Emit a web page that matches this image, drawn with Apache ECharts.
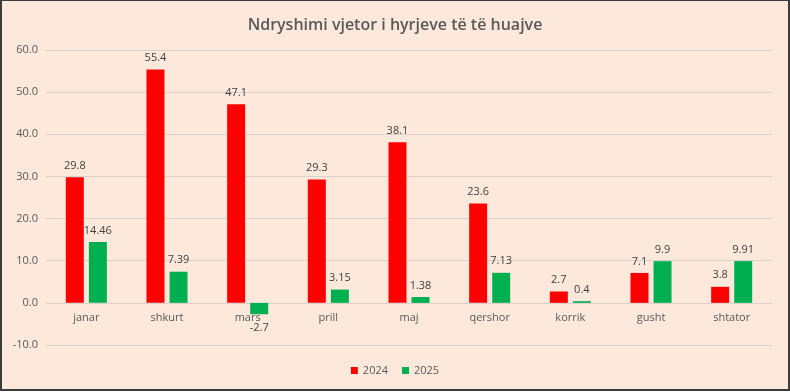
<!DOCTYPE html>
<html>
<head>
<meta charset="utf-8">
<script src="https://cdn.jsdelivr.net/npm/echarts@6/dist/echarts.min.js"></script>
<style>
html,body{margin:0;padding:0;background:#ffffff;}
#wrap{position:absolute;left:0;top:0;width:790px;height:391px;box-sizing:border-box;border-style:solid;border-color:#3b3b3b;border-width:1px 2px 2px 2px;background:#fde9dc;}
#chart{width:100%;height:100%;}
</style>
</head>
<body>
<div id="wrap"><div id="chart"></div></div>
<script>
const categories = ['janar','shkurt','mars','prill','maj','qershor','korrik','gusht','shtator'];
const seriesNames = ['2024','2025'];
const values2024 = [29.8, 55.4, 47.1, 29.3, 38.1, 23.6, 2.7, 7.1, 3.8];
const values2025 = [14.46, 7.39, -2.7, 3.15, 1.38, 7.13, 0.4, 9.9, 9.91];
const yTicks = {min: -10, max: 60, interval: 10};

const font = '"Open Sans", "Liberation Sans", sans-serif';
function mk(vals){
  return vals.map(v => v < 0 ? {value: v, label: {position: 'bottom', distance: 8}} : v);
}
const el = document.getElementById('chart');
const chart = echarts.init(el, null, {renderer: 'canvas'});
const gridTop = 49, gridBottom = 44;
const plotH = el.clientHeight - gridTop - gridBottom;
const zeroOffset = plotH * (0 - yTicks.min) / (yTicks.max - yTicks.min);
chart.setOption({
  backgroundColor: 'transparent',
  animation: false,
  title: {
    text: 'Ndryshimi vjetor i hyrjeve të të huajve',
    left: 'center', top: 11,
    textStyle: {fontFamily: font, fontSize: 16, fontWeight: 600, color: '#595959'}
  },
  legend: {
    data: seriesNames, bottom: 8, left: 'center',
    icon: 'rect', itemWidth: 7, itemHeight: 7, itemGap: 14,
    textStyle: {fontFamily: font, fontSize: 11, color: '#595959'}
  },
  grid: {left: 44, right: 16, top: gridTop, bottom: gridBottom, containLabel: false},
  xAxis: {
    type: 'category', data: categories,
    offset: -zeroOffset,
    axisLine: {show: false, onZero: false}, axisTick: {show: false},
    axisLabel: {fontFamily: font, fontSize: 11, color: '#595959', margin: 10}
  },
  yAxis: {
    type: 'value', min: yTicks.min, max: yTicks.max, interval: yTicks.interval,
    axisLine: {show: false}, axisTick: {show: false},
    axisLabel: {fontFamily: font, fontSize: 11, color: '#595959', margin: 8,
      formatter: v => v.toFixed(1)},
    splitLine: {lineStyle: {color: '#d9d2cc', width: 1}}
  },
  series: [
    {name: seriesNames[0], type: 'bar', data: mk(values2024), barWidth: 18, barGap: '28%',
     itemStyle: {color: '#ff0000'},
     label: {show: true, position: 'top', distance: 6, fontFamily: font, fontSize: 11, color: '#404040'}},
    {name: seriesNames[1], type: 'bar', data: mk(values2025), barWidth: 18,
     itemStyle: {color: '#00b050'},
     label: {show: true, position: 'top', distance: 6, fontFamily: font, fontSize: 11, color: '#404040'}}
  ]
});
</script>
</body>
</html>
